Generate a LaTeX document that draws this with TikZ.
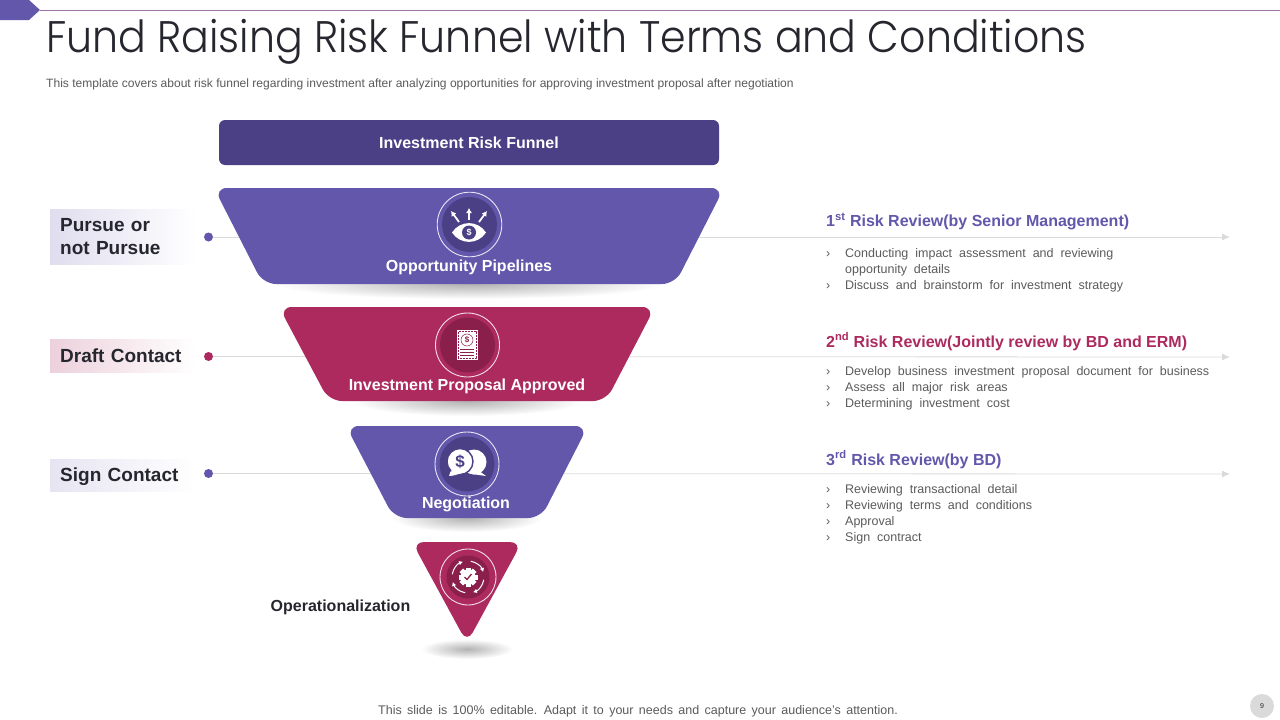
\documentclass[tikz,border=0pt]{standalone}
\usepackage{fontspec}
\setmainfont{Liberation Sans}
\newfontfamily\titlefont[FakeStretch=0.93]{Poppins Light}
\usetikzlibrary{arrows.meta}
\definecolor{violetMain}{HTML}{6257AB}
\definecolor{violetDark}{HTML}{4B3F85}
\definecolor{roseMain}{HTML}{AC2A5E}
\definecolor{roseDark}{HTML}{8A1F4B}
\definecolor{inkText}{HTML}{26262F}
\definecolor{greyText}{HTML}{5A5A5A}
\definecolor{greyLine}{HTML}{DADADA}
\newcommand{\spaceBody}{\spaceskip=6.95pt\relax}
\newcommand{\spaceFoot}{\spaceskip=5.38pt\relax}
\tikzset{
	>={Latex[length=8pt,width=7pt]},
	stageText/.style={font=\fontsize{16}{18}\selectfont\bfseries,text=white,inner sep=0pt},
	sideText/.style={anchor=west,align=left,text width=125pt,inner sep=0pt,inner xsep=10pt,font=\fontsize{19}{23}\selectfont\bfseries,text=inkText,right color=white},
	sideOne/.style={text height=13.5pt,text depth=0pt},
	reviewHead/.style={anchor=west,inner sep=0pt,font=\fontsize{16}{19}\selectfont\bfseries},
	reviewBody/.style={anchor=north west,inner sep=0pt,text=greyText,font=\fontsize{12.5}{16}\selectfont\spaceBody},
	trackDot/.style={circle,inner sep=0pt,minimum size=9pt},
	trackLine/.style={->,color=greyLine,line width=0.8pt},
	dropShade/.style={inner color=black!30,outer color=white},
	iconDisc/.style={circle,inner sep=0pt}
}
\newcommand{\revlines}[1]{\begin{tabular}{@{}p{19pt}@{}l@{}}#1\end{tabular}}

\begin{document}
\begin{tikzpicture}[x=1pt,y=-1pt]
\useasboundingbox (0,0) rectangle (1280,720);

% top ribbon
\fill[violetMain] (0,0) -- (29,0) -- (40,10) -- (29,20) -- (0,20) -- cycle;
\draw[color=violetDark!60!roseMain!70!white,line width=0.9pt] (40,10) -- (1280,10);

% title
\node[anchor=base west,inner sep=0pt,text=inkText,font=\fontsize{44.2}{50}\titlefont] (pageTitle) at (46,52.5) {Fund Raising Risk Funnel with Terms and Conditions};
\node[anchor=west,inner sep=0pt,text=greyText,font=\fontsize{12.05}{14}\selectfont] (pageNote) at (46,84.5) {This template covers about risk funnel regarding investment after analyzing opportunities for approving investment proposal after negotiation};

% tracks
\node[trackDot,fill=violetMain] (dotA) at (208.5,237) {};
\node[trackDot,fill=roseMain] (dotB) at (208.5,356.5) {};
\node[trackDot,fill=violetMain] (dotC) at (208.5,473.5) {};
\coordinate (endA) at (1230,237);
\coordinate (endB) at (1230,357);
\coordinate (endC) at (1230,474);
\draw[trackLine] (dotA) -- (endA);
\draw[trackLine] (dotB) -- (endB);
\draw[trackLine] (dotC) -- (endC);

% shadows under the funnel
\shade[dropShade] (469,284) ellipse (195 and 15);
\shade[dropShade] (467,401) ellipse (115 and 15);
\shade[dropShade] (467,518) ellipse (75 and 14);
\shade[dropShade] (467,649) ellipse (46 and 10);

% header bar
\node[fill=violetDark,rounded corners=6pt,minimum width=500pt,minimum height=45pt,inner sep=0pt,font=\fontsize{16}{18}\selectfont\bfseries,text=white] (funnelHead) at (469,142.5) {\raisebox{-1pt}{Investment Risk Funnel}};

% funnel parts
\fill[violetMain,rounded corners=13pt] (214,188) -- (724,188) -- (675,284) -- (263,284) -- cycle;
\fill[roseMain,rounded corners=13pt] (279,307) -- (655,307) -- (606,401) -- (329,401) -- cycle;
\fill[violetMain,rounded corners=13pt] (346,426) -- (588,426) -- (541,518) -- (394,518) -- cycle;
\fill[roseMain,rounded corners=12pt] (412,542) -- (522,542) -- (467,643) -- cycle;

% icon discs
\node[iconDisc,fill=violetDark,minimum size=55pt] (discA) at (469.5,224.5) {};
\node[iconDisc,fill=roseDark,minimum size=55pt] (discB) at (467.5,345) {};
\node[iconDisc,fill=violetDark,minimum size=55pt] (discC) at (467,464) {};
\node[iconDisc,fill=roseDark,minimum size=43pt] (discD) at (468,577) {};
\draw[white!85!violetMain,line width=0.9pt] (discA) circle (32.3);
\draw[white!85!roseMain,line width=0.9pt] (discB) circle (32);
\draw[white!85!violetMain,line width=0.9pt] (discC) circle (32);
\draw[white!85!roseMain,line width=0.9pt] (discD) circle (28);

% eye with arrows
\fill[white] (452,232.5) .. controls (460,220) and (478,220) .. (486,232.5) .. controls (478,245) and (460,245) .. (452,232.5);
\node[iconDisc,fill=violetDark,minimum size=14pt,text=white,font=\fontsize{9}{9}\selectfont\bfseries] (eyeCoin) at (469,232.5) {\$};
\foreach \xa/\ya/\xb/\yb in {469/220/469/208,459/222/451/211,479/222/487/211}
	\draw[-{Latex[length=5pt,width=6pt]},white,line width=1.8pt] (\xa,\ya) -- (\xb,\yb);

% paper with coin
\fill[white] (456.5,330) rectangle (478,360);
\draw[roseDark,line width=0.5pt,densely dotted] (458,331.5) rectangle (476.5,358.5);
\node[circle,draw=roseDark,line width=0.5pt,minimum size=12pt,inner sep=0pt,text=roseDark,font=\fontsize{8}{8}\selectfont\bfseries] (paperCoin) at (467,340) {\$};
\foreach \yy in {349,352,355}
	\draw[roseDark,line width=0.5pt] (460,\yy) -- (474,\yy);

% two speech bubbles
\fill[white] (474,462) circle (12.5);
\fill[white] (478,470) -- (486,476) -- (472,474) -- cycle;
\fill[white] (449,476) -- (452,467) -- (462,474) -- cycle;
\fill[white,draw=violetDark,line width=1.4pt] (460,461.5) circle (13);
\fill[white] (450,476) -- (452.5,467) -- (461,473.5) -- cycle;
\node[inner sep=0pt,text=violetDark,font=\fontsize{17}{17}\selectfont\bfseries] (bubbleCoin) at (460,461.5) {\$};

% gear with round arrows
\foreach \ang in {0,45,...,315}
	\fill[white,rotate around={\ang:(468,577)}] (465.5,567.5) rectangle (470.5,572);
\fill[white] (468,577) circle (7.5);
\draw[roseDark,line width=1.3pt] (464.5,577) -- (467,579.5) -- (471.5,574);
\foreach \ang in {10,100,190,280}
	\draw[-{Latex[length=4pt,width=4.5pt]},white,line width=1pt] (468,577) ++(\ang:16) arc[start angle=\ang,delta angle=62,radius=16];

% funnel part names
\node[stageText] (stageA) at (469,267) {Opportunity Pipelines};
\node[stageText] (stageB) at (467,386) {Investment Proposal Approved};
\node[stageText] (stageC) at (466,504) {Negotiation};
\node[anchor=center,inner sep=0pt,text=inkText,font=\fontsize{16}{19}\selectfont\bfseries] (stageD) at (340.5,607) {Operationalization};

% labels on the left
\node[sideText,left color=violetMain!20,minimum height=55pt] (sideA) at (50,236.5) {Pursue or\\not Pursue};
\node[sideText,sideOne,left color=roseMain!22,minimum height=33pt] (sideB) at (50,355.5) {Draft Contact};
\node[sideText,sideOne,left color=violetMain!16,minimum height=32pt] (sideC) at (50,475) {Sign Contact};

% reviews on the right
\node[reviewHead,text=violetMain] (headA) at (826,221.5) {1\textsuperscript{st} Risk Review(by Senior Management)};
\node[reviewBody] (bodyA) at (826,246) {\revlines{›&Conducting impact assessment and reviewing\\ &opportunity details\\›&Discuss and brainstorm for investment strategy}};
\node[reviewHead,text=roseMain] (headB) at (826,341.5) {2\textsuperscript{nd} Risk Review(Jointly review by BD and ERM)};
\node[reviewBody] (bodyB) at (826,364) {\revlines{›&Develop business investment proposal document for business\\›&Assess all major risk areas\\›&Determining investment cost}};
\node[reviewHead,text=violetMain] (headC) at (826,459.5) {3\textsuperscript{rd} Risk Review(by BD)};
\node[reviewBody] (bodyC) at (826,482) {\revlines{›&Reviewing transactional detail\\›&Reviewing terms and conditions\\›&Approval\\›&Sign contract}};

% footer
\node[inner sep=0pt,text=greyText,font=\fontsize{12.5}{14}\selectfont\spaceFoot] (footNote) at (638,711.5) {This slide is 100\% editable. Adapt it to your needs and capture your audience's attention.};
\node[circle,fill=greyLine,minimum size=24pt,inner sep=0pt,text=inkText,font=\fontsize{7}{8}\selectfont] (pageNum) at (1262,706) {9};
\end{tikzpicture}
\end{document}
